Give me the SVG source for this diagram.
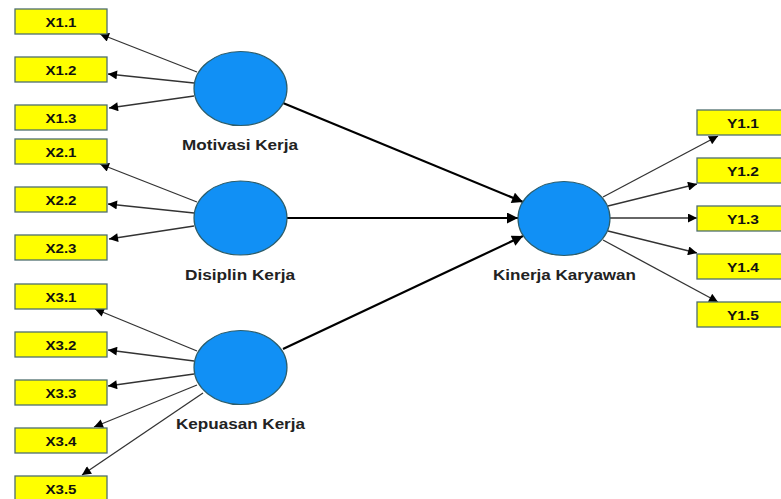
<svg xmlns="http://www.w3.org/2000/svg" width="781" height="499" viewBox="0 0 781 499">
<defs>
<marker id="ah" viewBox="0 0 10 10" refX="10" refY="5" markerWidth="11" markerHeight="9" markerUnits="userSpaceOnUse" orient="auto"><path d="M0,0 L10,5 L0,10 z" fill="#000"/></marker>
<marker id="ahb" viewBox="0 0 10 10" refX="10" refY="5" markerWidth="13" markerHeight="11" markerUnits="userSpaceOnUse" orient="auto"><path d="M0,0 L10,5 L0,10 z" fill="#000"/></marker>
<style>
.box{fill:#ffff00;stroke:#4f6f6f;stroke-width:1.3}
.lv{fill:#1190f5;stroke:#2c5d6b;stroke-width:1.2}
.bt{font-family:"Liberation Sans",Arial,sans-serif;font-weight:bold;font-size:12.5px;fill:#111;text-anchor:middle}
.lt{font-family:"Liberation Sans",Arial,sans-serif;font-weight:bold;font-size:14px;fill:#222;text-anchor:middle}
.ld{stroke:#333;stroke-width:1.3;fill:none;marker-end:url(#ah)}
.st{stroke:#000;stroke-width:2.2;fill:none;marker-end:url(#ahb)}
</style>
</defs>
<rect width="781" height="499" fill="#fff"/>
<g id="connectors">
<line class="ld" x1="197" y1="72" x2="100" y2="34"/>
<line class="ld" x1="194" y1="83" x2="108" y2="74"/>
<line class="ld" x1="194" y1="96" x2="109" y2="108"/>
<line class="ld" x1="197" y1="202" x2="100" y2="164"/>
<line class="ld" x1="194" y1="213" x2="108" y2="204"/>
<line class="ld" x1="194" y1="226" x2="109" y2="239"/>
<line class="ld" x1="197" y1="351" x2="95" y2="309"/>
<line class="ld" x1="194" y1="361" x2="108" y2="350"/>
<line class="ld" x1="194" y1="374" x2="108" y2="386"/>
<line class="ld" x1="197" y1="385" x2="94" y2="427"/>
<line class="ld" x1="203" y1="393" x2="82" y2="475"/>
<line class="ld" x1="603" y1="197" x2="718" y2="136"/>
<line class="ld" x1="608" y1="206" x2="697" y2="184"/>
<line class="ld" x1="610" y1="218" x2="697" y2="218"/>
<line class="ld" x1="608" y1="231" x2="697" y2="253"/>
<line class="ld" x1="603" y1="240" x2="718" y2="302"/>
<line class="st" x1="283" y1="103" x2="523" y2="202"/>
<line class="st" x1="287" y1="218" x2="518" y2="218"/>
<line class="st" x1="283" y1="349" x2="523" y2="236"/>
</g>
<g id="X1.1"><rect class="box" x="15" y="9" width="92" height="25"/><text class="bt" x="61" y="26.5" textLength="31" lengthAdjust="spacingAndGlyphs">X1.1</text></g>
<g id="X1.2"><rect class="box" x="15" y="57" width="92" height="25"/><text class="bt" x="61" y="74.5" textLength="31" lengthAdjust="spacingAndGlyphs">X1.2</text></g>
<g id="X1.3"><rect class="box" x="15" y="105" width="92" height="25"/><text class="bt" x="61" y="122.5" textLength="31" lengthAdjust="spacingAndGlyphs">X1.3</text></g>
<g id="X2.1"><rect class="box" x="15" y="139" width="92" height="25"/><text class="bt" x="61" y="156.5" textLength="31" lengthAdjust="spacingAndGlyphs">X2.1</text></g>
<g id="X2.2"><rect class="box" x="15" y="187" width="92" height="25"/><text class="bt" x="61" y="204.5" textLength="31" lengthAdjust="spacingAndGlyphs">X2.2</text></g>
<g id="X2.3"><rect class="box" x="15" y="235" width="92" height="25"/><text class="bt" x="61" y="252.5" textLength="31" lengthAdjust="spacingAndGlyphs">X2.3</text></g>
<g id="X3.1"><rect class="box" x="15" y="284" width="92" height="25"/><text class="bt" x="61" y="301.5" textLength="31" lengthAdjust="spacingAndGlyphs">X3.1</text></g>
<g id="X3.2"><rect class="box" x="15" y="332" width="92" height="25"/><text class="bt" x="61" y="349.5" textLength="31" lengthAdjust="spacingAndGlyphs">X3.2</text></g>
<g id="X3.3"><rect class="box" x="15" y="380" width="92" height="25"/><text class="bt" x="61" y="397.5" textLength="31" lengthAdjust="spacingAndGlyphs">X3.3</text></g>
<g id="X3.4"><rect class="box" x="15" y="428" width="92" height="25"/><text class="bt" x="61" y="445.5" textLength="31" lengthAdjust="spacingAndGlyphs">X3.4</text></g>
<g id="X3.5"><rect class="box" x="15" y="476" width="92" height="25"/><text class="bt" x="61" y="493.5" textLength="31" lengthAdjust="spacingAndGlyphs">X3.5</text></g>
<g id="Y1.1"><rect class="box" x="697" y="110" width="92" height="25"/><text class="bt" x="743" y="127.5" textLength="32" lengthAdjust="spacingAndGlyphs">Y1.1</text></g>
<g id="Y1.2"><rect class="box" x="697" y="158" width="92" height="25"/><text class="bt" x="743" y="175.5" textLength="32" lengthAdjust="spacingAndGlyphs">Y1.2</text></g>
<g id="Y1.3"><rect class="box" x="697" y="206" width="92" height="25"/><text class="bt" x="743" y="223.5" textLength="32" lengthAdjust="spacingAndGlyphs">Y1.3</text></g>
<g id="Y1.4"><rect class="box" x="697" y="254" width="92" height="25"/><text class="bt" x="743" y="271.5" textLength="32" lengthAdjust="spacingAndGlyphs">Y1.4</text></g>
<g id="Y1.5"><rect class="box" x="697" y="302" width="92" height="25"/><text class="bt" x="743" y="319.5" textLength="32" lengthAdjust="spacingAndGlyphs">Y1.5</text></g>
<g id="MotivasiKerja"><ellipse class="lv" cx="240.5" cy="88.5" rx="46.5" ry="37"/><text class="lt" x="240" y="150" textLength="116" lengthAdjust="spacingAndGlyphs">Motivasi Kerja</text></g>
<g id="DisiplinKerja"><ellipse class="lv" cx="240.5" cy="218" rx="46.5" ry="37"/><text class="lt" x="240" y="280" textLength="110" lengthAdjust="spacingAndGlyphs">Disiplin Kerja</text></g>
<g id="KepuasanKerja"><ellipse class="lv" cx="240.5" cy="367.5" rx="46.5" ry="37"/><text class="lt" x="240.5" y="429" textLength="129" lengthAdjust="spacingAndGlyphs">Kepuasan Kerja</text></g>
<g id="KinerjaKaryawan"><ellipse class="lv" cx="564" cy="218.5" rx="46" ry="37"/><text class="lt" x="564.5" y="280" textLength="143" lengthAdjust="spacingAndGlyphs">Kinerja Karyawan</text></g>
</svg>
